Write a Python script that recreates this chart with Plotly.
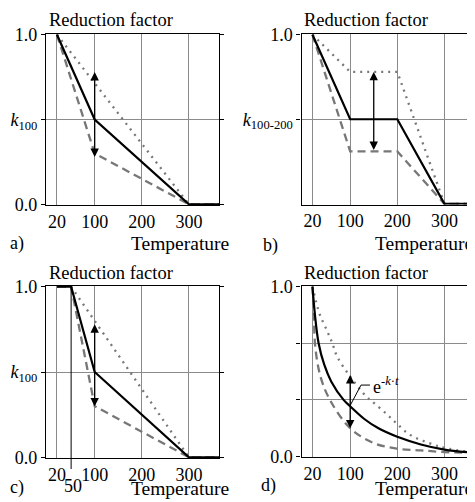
import plotly.graph_objects as go

# ---------------- data ----------------
x_ticks = [20, 100, 200, 300]
x_ticktext = ["20", "100", "200", "300"]

a_solid_x = [20, 100, 300, 364]
a_solid_y = [1.0, 0.5, 0.0, 0.0]
a_dot_x = [20, 300, 364]
a_dot_y = [1.0, 0.0, 0.0]
a_dash_x = [20, 100, 300, 364]
a_dash_y = [1.0, 0.3, 0.0, 0.0]
a_arrow_x = 100
a_arrow_y = [0.27, 0.78]
a_ytickvals = [0.0, 0.5, 1.0]
a_yticktext = ["0.0", "<i>k</i><sub>100</sub>", "1.0"]

b_solid_x = [20, 100, 200, 300, 364]
b_solid_y = [1.0, 0.5, 0.5, 0.0, 0.0]
b_dot_x = [20, 100, 200, 300, 364]
b_dot_y = [1.0, 0.78, 0.78, 0.0, 0.0]
b_dash_x = [20, 100, 200, 300, 364]
b_dash_y = [1.0, 0.31, 0.31, 0.0, 0.0]
b_arrow_x = 150
b_arrow_y = [0.31, 0.78]
b_ytickvals = [0.5, 1.0]
b_yticktext = ["<i>k</i><sub>100-200</sub>", "1.0"]

c_solid_x = [20, 50, 100, 300, 364]
c_solid_y = [1.0, 1.0, 0.5, 0.0, 0.0]
c_dot_x = [20, 50, 300, 364]
c_dot_y = [1.0, 1.0, 0.0, 0.0]
c_dash_x = [20, 50, 100, 300, 364]
c_dash_y = [1.0, 1.0, 0.3, 0.0, 0.0]
c_arrow_x = 100
c_arrow_y = [0.29, 0.78]
c_extra_tick = 50
c_ytickvals = [0.0, 0.5, 1.0]
c_yticktext = ["0.0", "<i>k</i><sub>100</sub>", "1.0"]

d_solid_x = [20, 25, 33, 45, 60, 86, 100, 130, 160, 200, 250, 300, 364]
d_solid_y = [1.0, 0.84, 0.667, 0.54, 0.44, 0.333, 0.295, 0.22, 0.165, 0.115, 0.07, 0.04, 0.02]
d_dot_x = [20, 35, 51, 62, 72, 100, 135, 146, 177, 200, 228, 278, 300, 364]
d_dot_y = [1.0, 0.84, 0.74, 0.667, 0.59, 0.47, 0.35, 0.325, 0.25, 0.19, 0.125, 0.068, 0.05, 0.02]
d_dash_x = [20, 23, 26, 37, 57, 100, 150, 200, 250, 300, 364]
d_dash_y = [1.0, 0.82, 0.644, 0.47, 0.333, 0.166, 0.078, 0.045, 0.035, 0.025, 0.02]
d_arrow_x = 100
d_arrow_y = [0.156, 0.479]
d_leader_x = [100, 123, 142]
d_leader_y = [0.30, 0.42, 0.42]
d_label = "e<sup>-<i>k</i>·<i>t</i></sup>"
d_ytickvals = [0.0, 1 / 3, 2 / 3, 1.0]
d_yticktext = ["0.0", " ", " ", "1.0"]

# ---------------- layout helpers ----------------
W, H = 475, 502
OFF = 8  # page body margin: figure is drawn 8px right/down of the window corner
FONT = "Liberation Serif"
FS = 18
XR = [-3.3, 363.8]
YR = [-0.004, 1.004]


def fx(p):
    return (p - OFF) / W


def fy(p):
    return 1 - (p - OFF) / H


fig = go.Figure()

panels = [
    dict(sx=a_solid_x, sy=a_solid_y, ox=a_dot_x, oy=a_dot_y, dx=a_dash_x, dy=a_dash_y,
         ax=a_arrow_x, ay=a_arrow_y, tv=a_ytickvals, tt=a_yticktext,
         xdom=[fx(46), fx(219)], ydom=[fy(205), fy(34)]),
    dict(sx=b_solid_x, sy=b_solid_y, ox=b_dot_x, oy=b_dot_y, dx=b_dash_x, dy=b_dash_y,
         ax=b_arrow_x, ay=b_arrow_y, tv=b_ytickvals, tt=b_yticktext,
         xdom=[fx(301.5), fx(474.5)], ydom=[fy(204.5), fy(34)]),
    dict(sx=c_solid_x, sy=c_solid_y, ox=c_dot_x, oy=c_dot_y, dx=c_dash_x, dy=c_dash_y,
         ax=c_arrow_x, ay=c_arrow_y, tv=c_ytickvals, tt=c_yticktext,
         xdom=[fx(46), fx(219)], ydom=[fy(458), fy(286)]),
    dict(sx=d_solid_x, sy=d_solid_y, ox=d_dot_x, oy=d_dot_y, dx=d_dash_x, dy=d_dash_y,
         ax=d_arrow_x, ay=d_arrow_y, tv=d_ytickvals, tt=d_yticktext,
         xdom=[fx(301.5), fx(474.5)], ydom=[fy(457), fy(286)], spline=True),
]

GRID = "#8a8a8a"
annotations = []
for i, p in enumerate(panels, start=1):
    xa = "x" if i == 1 else f"x{i}"
    ya = "y" if i == 1 else f"y{i}"
    shape = "spline" if p.get("spline") else "linear"
    fig.add_trace(go.Scatter(x=p["dx"], y=p["dy"], mode="lines", xaxis=xa, yaxis=ya,
                             line=dict(color="#777777", width=2.3, dash="8px,5px", shape=shape),
                             showlegend=False, hoverinfo="skip"))
    fig.add_trace(go.Scatter(x=p["ox"], y=p["oy"], mode="lines", xaxis=xa, yaxis=ya,
                             line=dict(color="#777777", width=2.3, dash="2px,5px", shape=shape),
                             showlegend=False, hoverinfo="skip"))
    fig.add_trace(go.Scatter(x=p["sx"], y=p["sy"], mode="lines", xaxis=xa, yaxis=ya,
                             line=dict(color="black", width=2.2, shape=shape),
                             showlegend=False, hoverinfo="skip"))
    xkey = "xaxis" if i == 1 else f"xaxis{i}"
    ykey = "yaxis" if i == 1 else f"yaxis{i}"
    fig.update_layout({
        xkey: dict(domain=p["xdom"], range=XR, anchor=ya, tickvals=x_ticks, ticktext=x_ticktext,
                   showgrid=True, gridcolor=GRID, gridwidth=1.4, zeroline=False,
                   showline=True, linecolor="black", linewidth=1.2, mirror=True,
                   ticks="",
                   tickfont=dict(family=FONT, size=FS, color="black"), fixedrange=True,
                   automargin=False),
        ykey: dict(domain=p["ydom"], range=YR, anchor=xa, tickvals=p["tv"], ticktext=p["tt"],
                   showgrid=True, gridcolor=GRID, gridwidth=1.4, zeroline=False,
                   showline=True, linecolor="black", linewidth=1.2, mirror="ticks",
                   ticks="outside", ticklen=4, tickcolor="black", tickwidth=1,
                   tickfont=dict(family=FONT, size=FS, color="black"), fixedrange=True,
                   automargin=False),
    })
    annotations.append(dict(x=p["ax"], y=p["ay"][1], ax=p["ax"], ay=p["ay"][0],
                            xref=xa, yref=ya, axref=xa, ayref=ya, text="", showarrow=True,
                            arrowhead=2, startarrowhead=2, arrowside="end+start",
                            arrowsize=1.3, startarrowsize=1.3, arrowwidth=1.3,
                            arrowcolor="black"))

fig.add_trace(go.Scatter(x=d_leader_x, y=d_leader_y, mode="lines", xaxis="x4", yaxis="y4",
                         line=dict(color="black", width=1), showlegend=False, hoverinfo="skip"))
annotations.append(dict(x=d_leader_x[-1] + 2, y=d_leader_y[-1], xref="x4", yref="y4",
                        text=d_label, showarrow=False, xanchor="left", yanchor="middle",
                        font=dict(family=FONT, size=FS, color="black")))

shapes = [dict(type="line", xref="x3", yref="paper", x0=c_extra_tick, x1=c_extra_tick,
               y0=fy(469), y1=fy(286), line=dict(color="black", width=1))]
annotations.append(dict(x=fx(73), y=fy(486), xref="paper", yref="paper", text=str(c_extra_tick),
                        showarrow=False, xanchor="center", yanchor="middle",
                        font=dict(family=FONT, size=FS, color="black")))

texts = [
    ("Reduction factor", 47, 20, "left", 18.5), ("Reduction factor", 302, 20, "left", 18.5),
    ("Reduction factor", 47, 273, "left", 18.5), ("Reduction factor", 302, 273, "left", 18.5),
    ("Temperature", 231, 243, "right", 19.5), ("Temperature", 475, 243, "right", 19.5),
    ("Temperature", 231, 488, "right", 19.5), ("Temperature", 475, 488, "right", 19.5),
    ("a)", 8, 243, "left", FS), ("b)", 261, 245, "left", FS),
    ("c)", 8, 487, "left", FS), ("d)", 259, 485, "left", FS),
]
for t, x, y, anc, size in texts:
    annotations.append(dict(x=fx(x), y=fy(y), xref="paper", yref="paper", text=t,
                            showarrow=False, xanchor=anc, yanchor="middle",
                            font=dict(family=FONT, size=size, color="black")))

fig.update_layout(width=W, height=H, margin=dict(l=0, r=0, t=0, b=0, pad=0, autoexpand=False),
                  paper_bgcolor="white", plot_bgcolor="white",
                  annotations=annotations, shapes=shapes, showlegend=False,
                  font=dict(family=FONT, size=FS, color="black"))

fig.write_html("out.html")
